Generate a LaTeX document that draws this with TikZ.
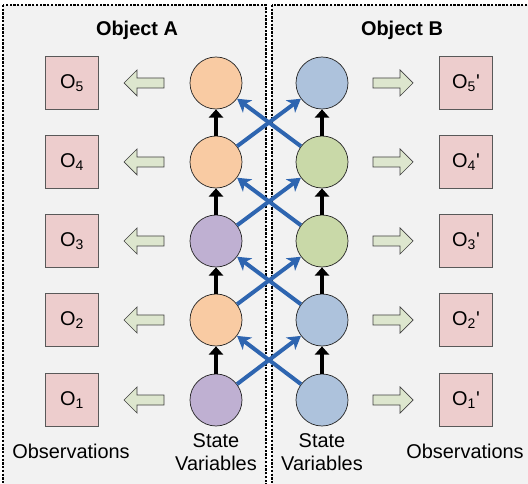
\documentclass[tikz,border=0pt]{standalone}
\usepackage{fontspec}
\setmainfont{Liberation Sans}
\usetikzlibrary{arrows.meta}
\definecolor{panelgray}{HTML}{F2F2F2}
\definecolor{obspink}{HTML}{EDCDCD}
\definecolor{hollowgreen}{HTML}{DDE6CE}
\definecolor{peach}{HTML}{F9CBA3}
\definecolor{lilac}{HTML}{BFB0D2}
\definecolor{paleblue}{HTML}{ADC2DC}
\definecolor{sage}{HTML}{C9D9A8}
\definecolor{crossblue}{HTML}{2E65B0}
\begin{document}
\begin{tikzpicture}[x=0.03cm, y=-0.03cm, font=\fontsize{17}{19.5}\selectfont,
    panel/.style={fill=panelgray, draw=black, line width=1.2pt, dash pattern=on 2pt off 1.2pt},
    state/.style={circle, draw=black!85, line width=0.6pt, minimum size=1.56cm, inner sep=0pt},
    obs/.style={draw=black!65, line width=0.9pt, fill=obspink, minimum size=1.59cm, inner sep=0pt},
    chain/.style={line width=3.4pt, -{Triangle[length=7pt, width=12pt]}},
    cross/.style={line width=3.4pt, draw=crossblue, -{Stealth[length=11pt, width=13pt, inset=3pt]}},
    hollow/.style={fill=hollowgreen, draw=black!75, line width=0.6pt},
    arrowL/.pic={\draw[hollow] (-20,0) -- (-7,-13) -- (-7,-5) -- (20,-5) -- (20,5) -- (-7,5) -- (-7,13) -- cycle;},
    arrowR/.pic={\draw[hollow] (20,0) -- (7,-13) -- (7,-5) -- (-20,-5) -- (-20,5) -- (7,5) -- (7,13) -- cycle;}]
    \useasboundingbox (0,0) rectangle (528,484);
    \draw[panel] (3,5) rectangle (266,500);
    \draw[panel] (272,5) rectangle (540,500);

    \node[font=\fontsize{17}{19.5}\selectfont\bfseries] (titleA) at (137,30) {Object A};
    \node[font=\fontsize{17}{19.5}\selectfont\bfseries] (titleB) at (402,30) {Object B};

    % state variables, object A
    \node[state, fill=lilac] (a1) at (216,400) {};
    \node[state, fill=peach] (a2) at (216,320) {};
    \node[state, fill=lilac] (a3) at (216,241) {};
    \node[state, fill=peach] (a4) at (216,162) {};
    \node[state, fill=peach] (a5) at (216,83) {};
    % state variables, object B
    \node[state, fill=paleblue] (b1) at (322,400) {};
    \node[state, fill=paleblue] (b2) at (322,320) {};
    \node[state, fill=sage] (b3) at (322,241) {};
    \node[state, fill=sage] (b4) at (322,162) {};
    \node[state, fill=paleblue] (b5) at (322,83) {};

    % observations
    \node[obs] (o1) at (72,400) {O\textsubscript{1}};
    \node[obs] (o2) at (72,320) {O\textsubscript{2}};
    \node[obs] (o3) at (72,241) {O\textsubscript{3}};
    \node[obs] (o4) at (72,162) {O\textsubscript{4}};
    \node[obs] (o5) at (72,83) {O\textsubscript{5}};
    \node[obs] (p1) at (466,400) {O\textsubscript{1}\textquotesingle};
    \node[obs] (p2) at (466,320) {O\textsubscript{2}\textquotesingle};
    \node[obs] (p3) at (466,241) {O\textsubscript{3}\textquotesingle};
    \node[obs] (p4) at (466,162) {O\textsubscript{4}\textquotesingle};
    \node[obs] (p5) at (466,83) {O\textsubscript{5}\textquotesingle};

    \pic at (144,400) {arrowL};
    \pic at (144,320) {arrowL};
    \pic at (144,241) {arrowL};
    \pic at (144,162) {arrowL};
    \pic at (144,83) {arrowL};
    \pic at (393,400) {arrowR};
    \pic at (393,320) {arrowR};
    \pic at (393,241) {arrowR};
    \pic at (393,162) {arrowR};
    \pic at (393,83) {arrowR};

    \draw[chain] (a1) -- (a2);
    \draw[chain] (a2) -- (a3);
    \draw[chain] (a3) -- (a4);
    \draw[chain] (a4) -- (a5);
    \draw[chain] (b1) -- (b2);
    \draw[chain] (b2) -- (b3);
    \draw[chain] (b3) -- (b4);
    \draw[chain] (b4) -- (b5);

    \draw[cross] (a1) -- (b2);
    \draw[cross] (b1) -- (a2);
    \draw[cross] (a2) -- (b3);
    \draw[cross] (b2) -- (a3);
    \draw[cross] (a3) -- (b4);
    \draw[cross] (b3) -- (a4);
    \draw[cross] (a4) -- (b5);
    \draw[cross] (b4) -- (a5);

    \node (obsA) at (71,451) {Observations};
    \node (obsB) at (465,451) {Observations};
    \node[align=center] (varsA) at (216,452) {State\\Variables};
    \node[align=center] (varsB) at (322,452) {State\\Variables};
\end{tikzpicture}
\end{document}
